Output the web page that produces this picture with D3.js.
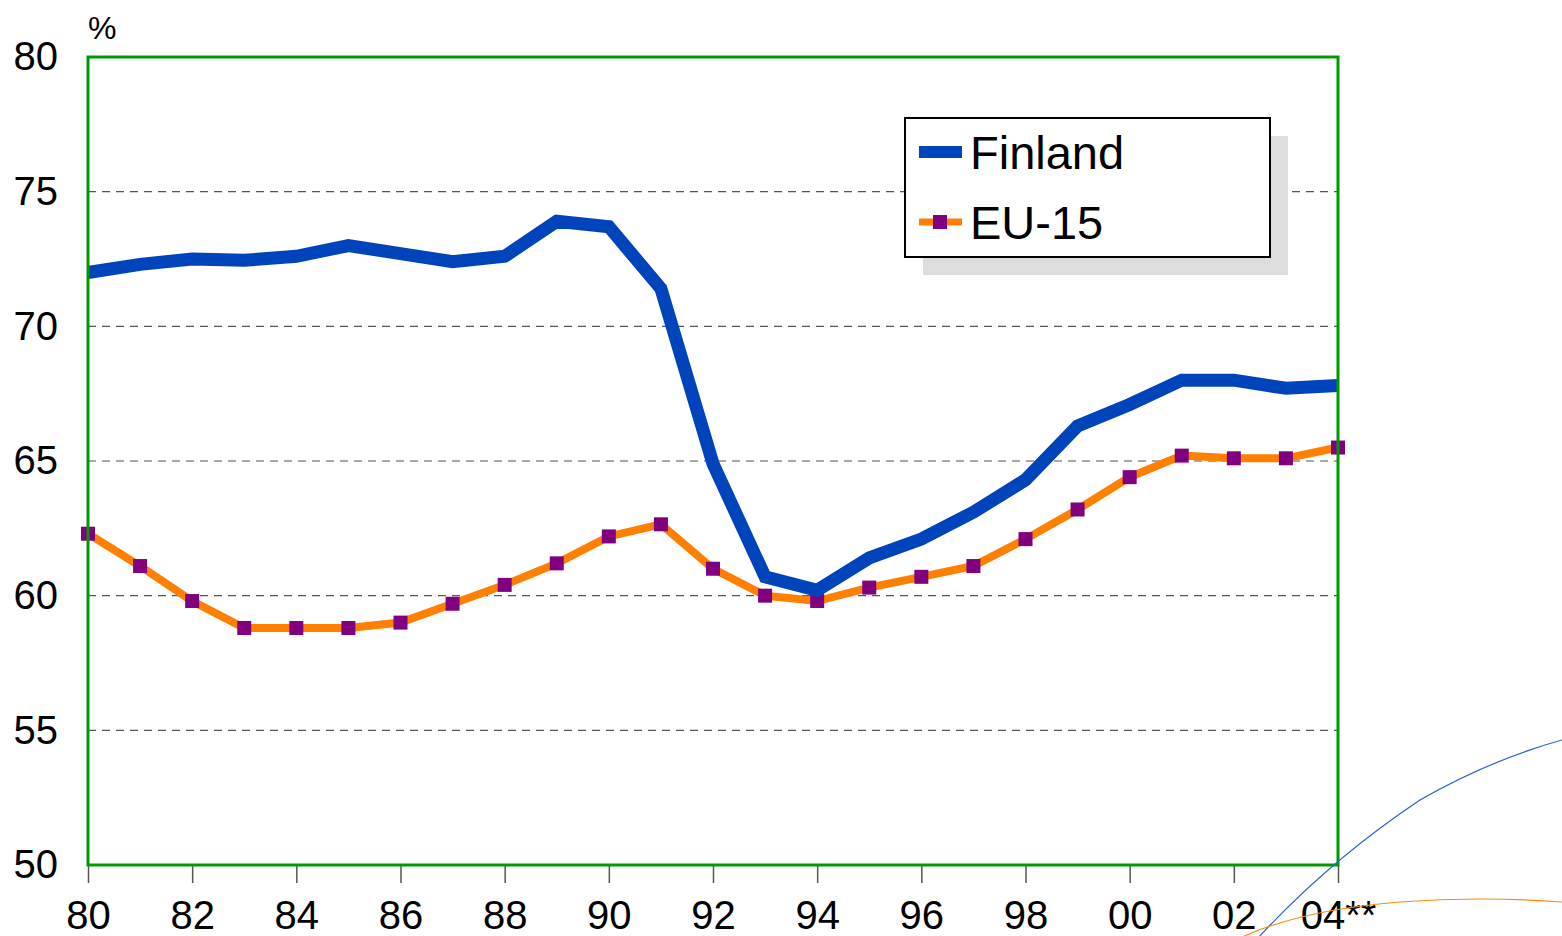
<!DOCTYPE html>
<html>
<head>
<meta charset="utf-8">
<script src="https://cdn.jsdelivr.net/npm/d3@7"></script>
<style>
  body { margin: 0; background: #fff; }
  text { font-family: "Liberation Sans", Arial, sans-serif; fill: #000; }
</style>
</head>
<body>
<div id="chart"></div>
<script>
var years = d3.range(1980, 2005);
var finland = [72.0, 72.3, 72.5, 72.45, 72.6, 73.0, 72.7, 72.4, 72.6, 73.9, 73.7, 71.4,
  64.9, 60.7, 60.2, 61.4, 62.1, 63.1, 64.3, 66.3, 67.1, 68.0, 68.0, 67.7, 67.8];
var eu15 = [62.3, 61.1, 59.8, 58.8, 58.8, 58.8, 59.0, 59.7, 60.4, 61.2, 62.2, 62.65,
  61.0, 60.0, 59.8, 60.3, 60.7, 61.1, 62.1, 63.2, 64.4, 65.2, 65.1, 65.1, 65.5];
var yTicks = [50, 55, 60, 65, 70, 75, 80];
var xTickYears = d3.range(1980, 2005, 2);
var xTickLabels = ["80", "82", "84", "86", "88", "90", "92", "94", "96", "98", "00", "02", "04**"];

var svgWidth = 1562, svgHeight = 936;
var margin = {top: 57, right: 224, bottom: 71, left: 88};
var width = svgWidth - margin.left - margin.right;
var height = svgHeight - margin.top - margin.bottom;

var svg = d3.select("#chart").append("svg")
  .attr("width", svgWidth)
  .attr("height", svgHeight);

var chartGroup = svg.append("g")
  .attr("transform", `translate(${margin.left}, ${margin.top})`);

var x = d3.scaleLinear().domain([1980, 2004]).range([0, width]);
var y = d3.scaleLinear().domain([50, 80]).range([height, 0]);

// grid lines
chartGroup.selectAll(".grid")
  .data(yTicks.filter(d => d > 50 && d < 80))
  .enter().append("line")
  .attr("x1", 0).attr("x2", width)
  .attr("y1", d => y(d)).attr("y2", d => y(d))
  .attr("stroke", "#555")
  .attr("stroke-width", 1.2)
  .attr("stroke-dasharray", "8,6");

// y axis labels
var leftAxis = d3.axisLeft(y).tickValues(yTicks).tickSize(0).tickPadding(30);
var gy = chartGroup.append("g").call(leftAxis);
gy.select(".domain").remove();
gy.selectAll("text")
  .style("font-size", "40px")
  .style("font-family", "Liberation Sans, Arial, sans-serif");

// x axis ticks and labels
var bottomAxis = d3.axisBottom(x).tickValues(xTickYears).tickSize(18).tickPadding(18)
  .tickFormat((d, i) => xTickLabels[i]);
var gx = chartGroup.append("g")
  .attr("transform", `translate(0, ${height})`)
  .call(bottomAxis);
gx.select(".domain").remove();
gx.selectAll("line").attr("stroke", "#555").attr("stroke-width", 1.5);
gx.selectAll("text")
  .style("font-size", "40px")
  .style("font-family", "Liberation Sans, Arial, sans-serif");

// "%" label
svg.append("text")
  .attr("x", 88).attr("y", 39)
  .style("font-size", "32px")
  .text("%");

var line = d3.line()
  .x((d, i) => x(years[i]))
  .y(d => y(d));

// EU-15
chartGroup.append("path")
  .datum(eu15)
  .attr("fill", "none")
  .attr("stroke", "#ff8000")
  .attr("stroke-width", 8)
  .attr("stroke-linejoin", "miter")
  .attr("d", line);

chartGroup.selectAll(".mk")
  .data(eu15)
  .enter().append("rect")
  .attr("x", (d, i) => x(years[i]) - 7)
  .attr("y", d => y(d) - 7)
  .attr("width", 14).attr("height", 14)
  .attr("fill", "#800080");

// Finland
chartGroup.append("path")
  .datum(finland)
  .attr("fill", "none")
  .attr("stroke", "#0044bb")
  .attr("stroke-width", 13)
  .attr("stroke-linejoin", "miter")
  .attr("d", line);

// plot frame
chartGroup.append("rect")
  .attr("x", 0).attr("y", 0)
  .attr("width", width).attr("height", height)
  .attr("fill", "none")
  .attr("stroke", "#009900")
  .attr("stroke-width", 3);

// decorative curves bottom right
svg.append("path")
  .attr("d", "M1258,938 Q1330,860 1420,800 Q1490,760 1562,740")
  .attr("fill", "none").attr("stroke", "#2860d0").attr("stroke-width", 1.2);
svg.append("path")
  .attr("d", "M1240,938 Q1300,910 1400,902 Q1480,896 1562,902")
  .attr("fill", "none").attr("stroke", "#ff8a10").attr("stroke-width", 1.2);

// legend
var legend = svg.append("g");
legend.append("rect")
  .attr("x", 923).attr("y", 136).attr("width", 365).attr("height", 139)
  .attr("fill", "#dddddd");
legend.append("rect")
  .attr("x", 905).attr("y", 118).attr("width", 365).attr("height", 139)
  .attr("fill", "#fff").attr("stroke", "#000").attr("stroke-width", 2);

var legendItems = [
  {name: "Finland", color: "#0044bb", w: 12, marker: false},
  {name: "EU-15", color: "#ff8000", w: 7, marker: true}
];
legendItems.forEach(function(item, i) {
  var ly = 152 + i * 70;
  legend.append("line")
    .attr("x1", 919).attr("x2", 962)
    .attr("y1", ly).attr("y2", ly)
    .attr("stroke", item.color).attr("stroke-width", item.w);
  if (item.marker) {
    legend.append("rect")
      .attr("x", 933).attr("y", ly - 7).attr("width", 14).attr("height", 14)
      .attr("fill", "#800080");
  }
  legend.append("text")
    .attr("x", 970).attr("y", ly + 17)
    .style("font-size", "47px")
    .text(item.name);
});
</script>
</body>
</html>
